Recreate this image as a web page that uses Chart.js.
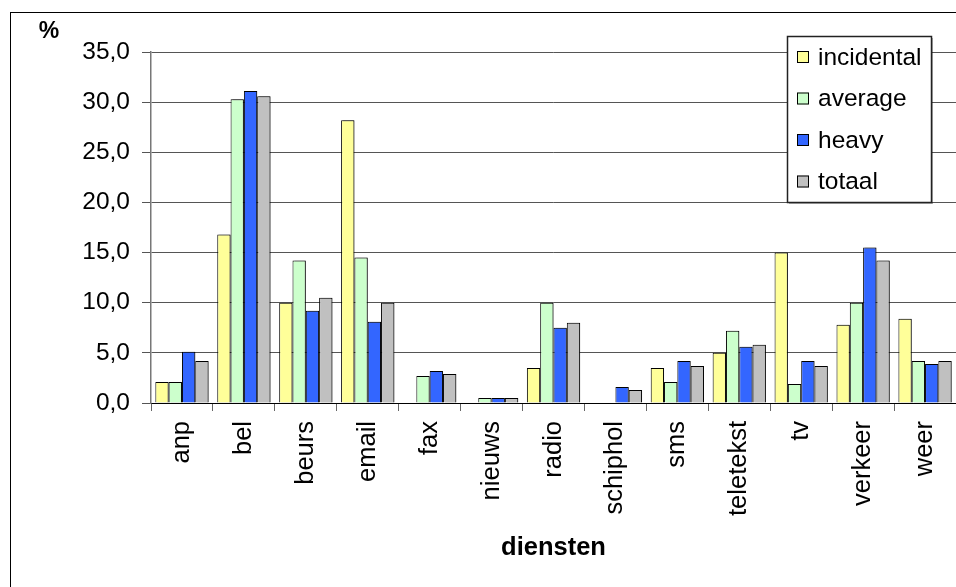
<!DOCTYPE html>
<html>
<head>
<meta charset="utf-8">
<script src="https://cdn.jsdelivr.net/npm/chart.js@4/dist/chart.umd.min.js"></script>
<style>
  html, body { margin: 0; padding: 0; background: #fff; }
  #wrap { width: 956px; height: 587px; position: relative; }
</style>
</head>
<body>
<div id="wrap"><canvas id="c" width="956" height="587"></canvas></div>
<script>
// Diensten per gebruikersgroep (%)
const categories = ['anp', 'bel', 'beurs', 'email', 'fax', 'nieuws', 'radio', 'schiphol', 'sms', 'teletekst', 'tv', 'verkeer', 'weer'];
const incidental = [2.1, 16.8, 10.0, 28.2, null, null, 3.5, null, 3.5, 5.0, 15.0, 7.8, 8.4];
const average    = [2.1, 30.3, 14.2, 14.5, 2.7, 0.5, 10.0, null, 2.1, 7.2, 1.9, 10.0, 4.2];
const heavy      = [5.1, 31.1, 9.2, 8.1, 3.2, 0.5, 7.5, 1.6, 4.2, 5.6, 4.2, 15.5, 3.9];
const totaal     = [4.2, 30.6, 10.5, 10.0, 2.9, 0.5, 8.0, 1.3, 3.7, 5.8, 3.7, 14.2, 4.2];
const seriesNames = ['incidental', 'average', 'heavy', 'totaal'];
const yMin = 0, yMax = 35, yStep = 5;
const xTitle = 'diensten';
const yUnit = '%';

const FONT = "'Liberation Sans', Arial, sans-serif";
const colors = ['#FFFF99', '#CCFFCC', '#3366FF', '#C0C0C0'];

// White page with the frame around the whole chart
const framePlugin = {
  id: 'frame',
  beforeDraw(chart) {
    const ctx = chart.ctx;
    ctx.save();
    ctx.fillStyle = '#fff';
    ctx.fillRect(0, 0, chart.width, chart.height);
    ctx.strokeStyle = '#000';
    ctx.lineWidth = 1;
    ctx.strokeRect(10.5, 12.5, 1200, 1200);
    ctx.restore();
  },
  afterDraw(chart) {
    const ctx = chart.ctx;
    ctx.save();
    ctx.fillStyle = '#000';
    ctx.font = 'bold 23px ' + FONT;
    ctx.textAlign = 'center';
    ctx.textBaseline = 'middle';
    ctx.fillText(yUnit, 49, 32);
    ctx.restore();
  }
};

// Light drop shadow behind the bars
const shadowPlugin = {
  id: 'barShadow',
  beforeDatasetsDraw(chart) {
    const ctx = chart.ctx;
    ctx.save();
    ctx.shadowColor = 'rgba(0,0,0,0.35)';
    ctx.shadowOffsetX = 2;
    ctx.shadowOffsetY = 0;
    ctx.shadowBlur = 0;
  },
  afterDatasetsDraw(chart) {
    chart.ctx.restore();
  }
};

// Boxed legend in the upper right of the plot
const boxLegend = {
  id: 'boxLegend',
  afterDatasetsDraw(chart) {
    const ctx = chart.ctx;
    const x = 787, y = 36, w = 144, h = 166;
    ctx.save();
    ctx.fillStyle = 'rgba(0,0,0,0.3)';
    ctx.fillRect(x + 2, y + 2, w, h);
    ctx.fillStyle = '#fff';
    ctx.fillRect(x, y, w, h);
    ctx.strokeStyle = '#222';
    ctx.lineWidth = 1.5;
    ctx.strokeRect(x + 0.5, y + 0.5, w, h);
    ctx.font = '24.5px ' + FONT;
    ctx.textBaseline = 'middle';
    ctx.textAlign = 'left';
    chart.data.datasets.forEach((ds, i) => {
      const cy = 57 + i * 41.5;
      ctx.fillStyle = ds.backgroundColor;
      ctx.fillRect(797, cy - 6, 12, 12);
      ctx.strokeStyle = '#000';
      ctx.lineWidth = 1;
      ctx.strokeRect(797.5, cy - 5.5, 11, 11);
      ctx.fillStyle = '#000';
      ctx.fillText(ds.label, 818, cy + 1);
    });
    ctx.restore();
  }
};

const seriesData = [incidental, average, heavy, totaal];

new Chart(document.getElementById('c'), {
  type: 'bar',
  data: {
    labels: categories,
    datasets: seriesNames.map((name, i) => ({
      label: name,
      data: seriesData[i],
      backgroundColor: colors[i],
      borderColor: '#000',
      borderWidth: 1,
      categoryPercentage: 0.86,
      barPercentage: 1.0
    }))
  },
  options: {
    responsive: false,
    animation: false,
    devicePixelRatio: 1,
    layout: { padding: { top: 52, left: 0, right: 0, bottom: 0 } },
    plugins: {
      legend: { display: false },
      tooltip: { enabled: false }
    },
    scales: {
      x: {
        afterFit(s) { s.height = 184; s.paddingLeft = 0; s.paddingRight = 0; },
        grid: {
          display: true,
          drawOnChartArea: false,
          drawTicks: true,
          tickLength: 8,
          color: '#666',
          offset: true
        },
        border: { display: true, color: '#000', width: 1 },
        ticks: {
          minRotation: 90,
          maxRotation: 90,
          autoSkip: false,
          padding: 10,
          color: '#000',
          font: { family: FONT, size: 25.5 }
        },
        title: {
          display: true,
          text: xTitle,
          color: '#000',
          font: { family: FONT, size: 25.5, weight: 'bold' },
          padding: { top: 4, bottom: 24 }
        }
      },
      y: {
        min: yMin,
        max: yMax,
        afterFit(s) { s.width = 151; s.paddingTop = 0; s.paddingBottom = 0; },
        grid: {
          color: '#555',
          lineWidth: 1,
          drawTicks: true,
          tickLength: 9
        },
        border: { display: true, color: '#777', width: 1.5 },
        ticks: {
          stepSize: yStep,
          padding: 12,
          color: '#000',
          font: { family: FONT, size: 24.5 },
          callback: v => Number(v).toFixed(1).replace('.', ',')
        }
      }
    }
  },
  plugins: [framePlugin, shadowPlugin, boxLegend]
});
</script>
</body>
</html>
